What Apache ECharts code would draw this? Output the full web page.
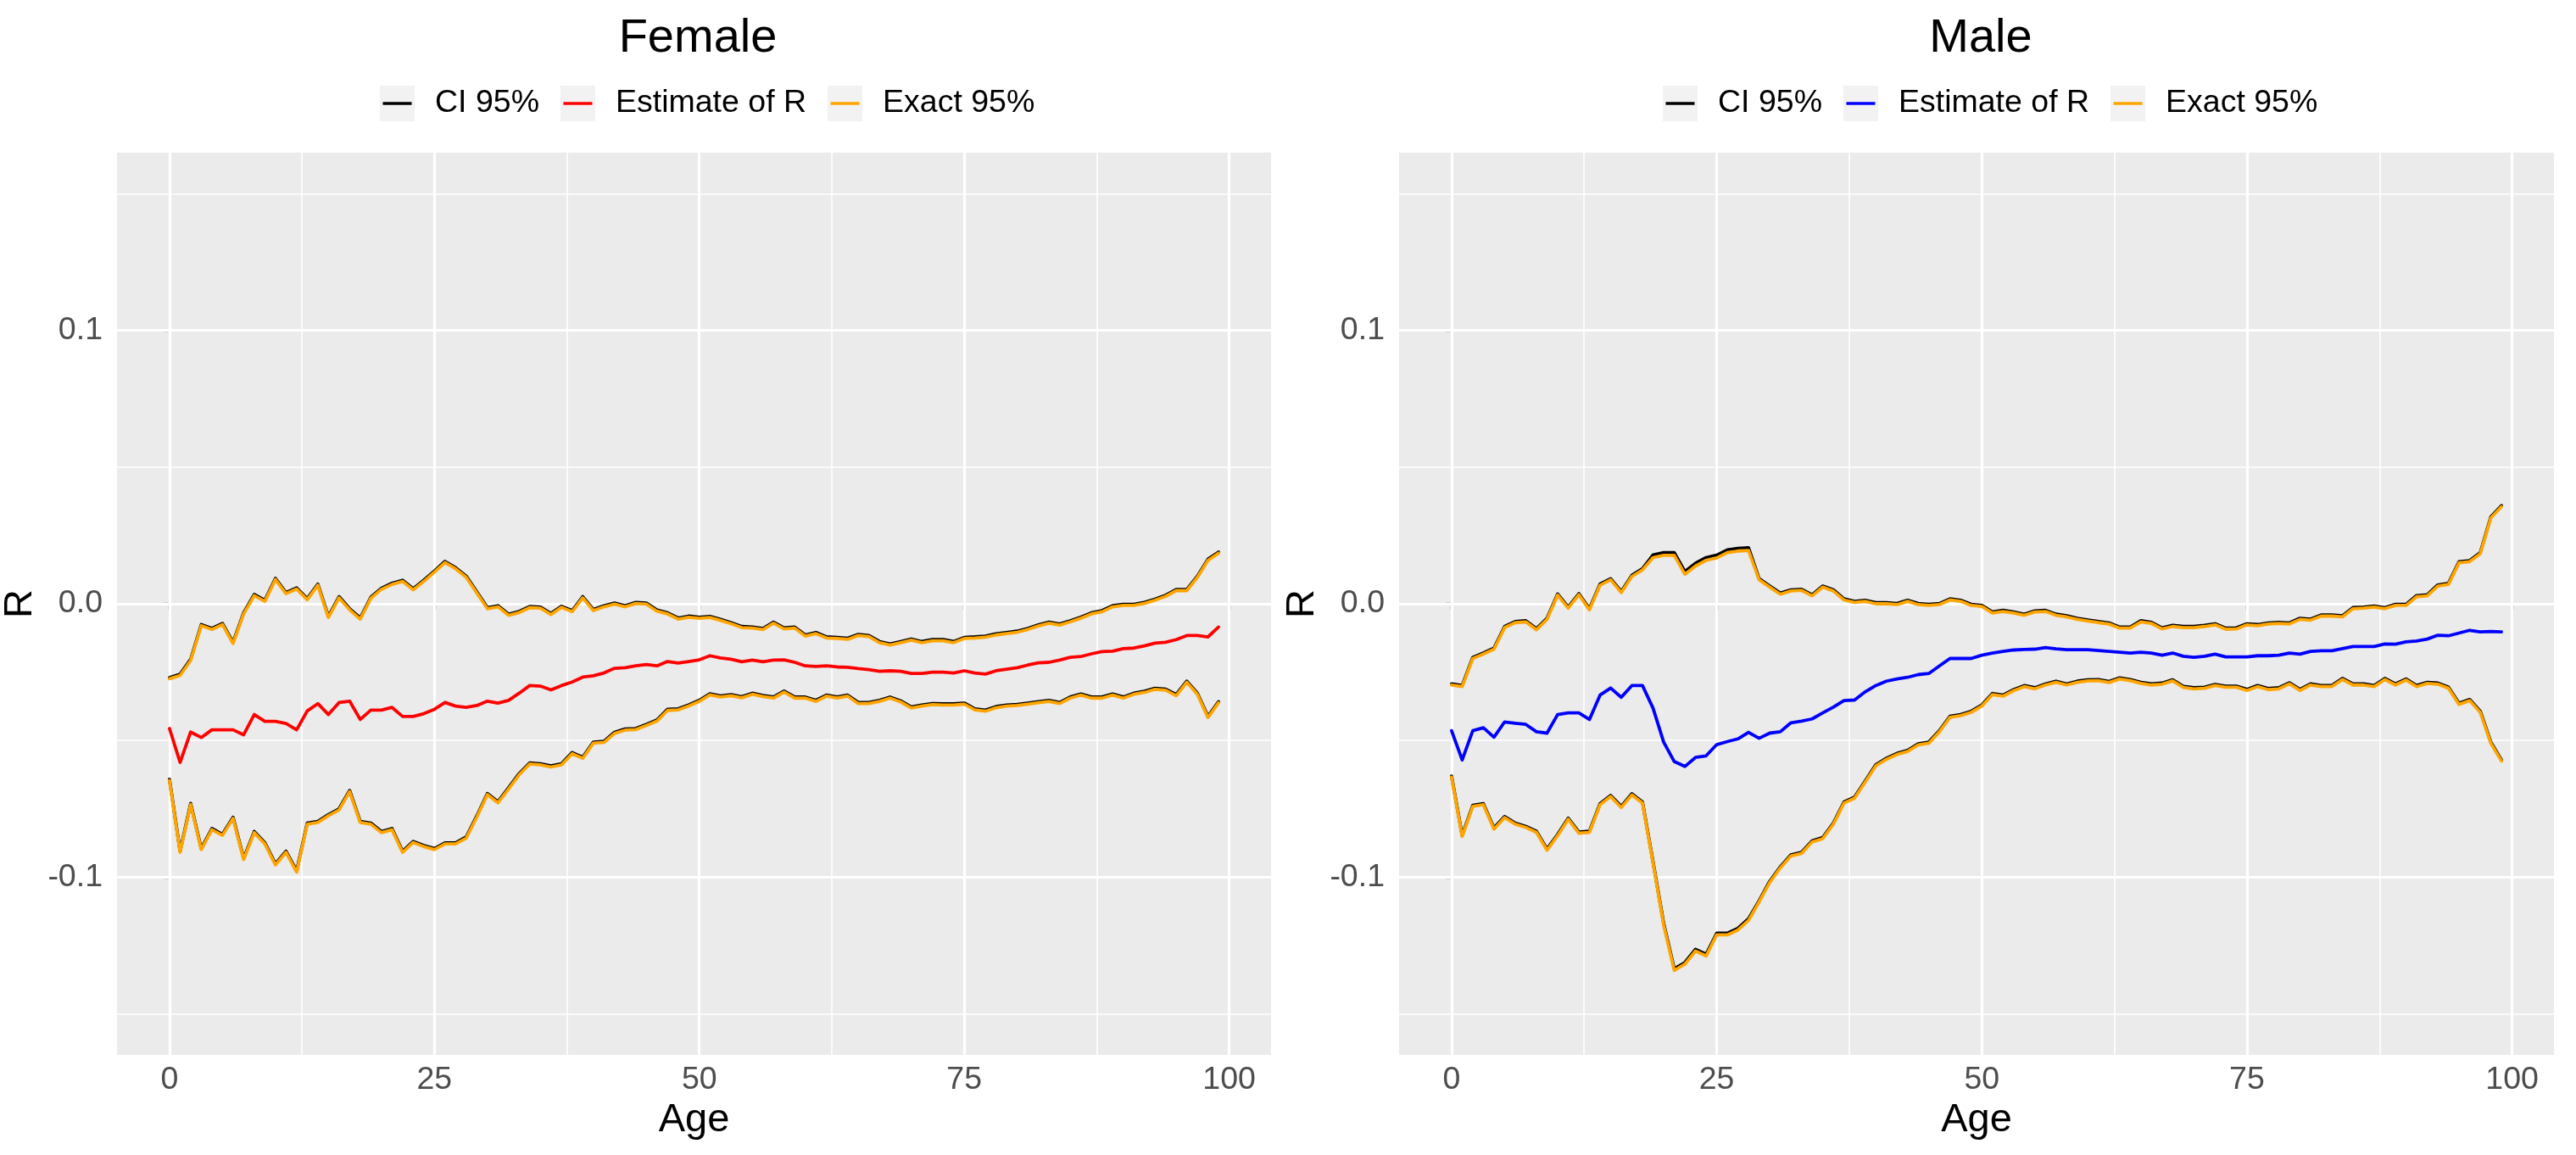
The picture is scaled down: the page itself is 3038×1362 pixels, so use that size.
<!DOCTYPE html>
<html>
<head>
<meta charset="utf-8">
<script src="https://cdn.jsdelivr.net/npm/echarts@6/dist/echarts.min.js"></script>
<style>
html,body{margin:0;padding:0;background:#fff;}
#chart{width:3038px;height:1362px;}
</style>
</head>
<body>
<div id="chart"></div>
<script>
// ---------- data ----------
const ages = Array.from({length: 100}, (_, i) => i);

const femaleCIUpper = [-0.0270,-0.0258,-0.0203,-0.0076,-0.0090,-0.0072,-0.0141,-0.0033,0.0034,0.0013,
0.0093,0.0041,0.0058,0.0019,0.0072,-0.0046,0.0026,-0.0018,-0.0052,0.0024,
0.0057,0.0075,0.0086,0.0055,0.0086,0.0120,0.0155,0.0132,0.0101,0.0044,
-0.0014,-0.0007,-0.0038,-0.0028,-0.0010,-0.0012,-0.0035,-0.0009,-0.0025,0.0026,
-0.0021,-0.0007,0.0003,-0.0007,0.0005,0.0003,-0.0023,-0.0033,-0.0052,-0.0045,
-0.0049,-0.0046,-0.0057,-0.0069,-0.0083,-0.0085,-0.0090,-0.0067,-0.0088,-0.0085,
-0.0114,-0.0105,-0.0121,-0.0123,-0.0126,-0.0112,-0.0116,-0.0138,-0.0147,-0.0138,
-0.0129,-0.0138,-0.0131,-0.0131,-0.0138,-0.0123,-0.0121,-0.0118,-0.0110,-0.0105,
-0.0100,-0.0090,-0.0077,-0.0067,-0.0074,-0.0062,-0.0049,-0.0033,-0.0025,-0.0007,
-0.0002,-0.0002,0.0005,0.0017,0.0031,0.0052,0.0052,0.0101,0.0163,0.0189];

const femaleExactUpper = [-0.0274,-0.0262,-0.0207,-0.0080,-0.0094,-0.0076,-0.0145,-0.0037,0.0030,0.0009,
0.0089,0.0037,0.0054,0.0015,0.0068,-0.0050,0.0022,-0.0022,-0.0056,0.0020,
0.0053,0.0071,0.0082,0.0051,0.0082,0.0116,0.0151,0.0128,0.0097,0.0040,
-0.0018,-0.0011,-0.0042,-0.0032,-0.0014,-0.0016,-0.0039,-0.0013,-0.0029,0.0022,
-0.0025,-0.0011,-0.0001,-0.0011,0.0001,-0.0001,-0.0027,-0.0037,-0.0056,-0.0049,
-0.0053,-0.0050,-0.0061,-0.0073,-0.0087,-0.0089,-0.0094,-0.0071,-0.0092,-0.0089,
-0.0118,-0.0109,-0.0125,-0.0127,-0.0130,-0.0116,-0.0120,-0.0142,-0.0151,-0.0142,
-0.0133,-0.0142,-0.0135,-0.0135,-0.0142,-0.0127,-0.0125,-0.0122,-0.0114,-0.0109,
-0.0104,-0.0094,-0.0081,-0.0071,-0.0078,-0.0066,-0.0053,-0.0037,-0.0029,-0.0011,
-0.0006,-0.0006,0.0001,0.0013,0.0027,0.0048,0.0048,0.0097,0.0159,0.0185];

const femaleEstimate = [-0.0456,-0.0580,-0.0469,-0.0489,-0.0461,-0.0461,-0.0461,-0.0479,-0.0405,-0.0430,
-0.0430,-0.0438,-0.0461,-0.0392,-0.0365,-0.0405,-0.0361,-0.0356,-0.0423,-0.0389,
-0.0389,-0.0379,-0.0412,-0.0412,-0.0402,-0.0386,-0.0361,-0.0374,-0.0379,-0.0372,
-0.0356,-0.0363,-0.0353,-0.0327,-0.0299,-0.0301,-0.0315,-0.0299,-0.0286,-0.0268,
-0.0263,-0.0253,-0.0236,-0.0234,-0.0227,-0.0222,-0.0227,-0.0211,-0.0217,-0.0211,
-0.0205,-0.0190,-0.0198,-0.0203,-0.0212,-0.0206,-0.0212,-0.0206,-0.0205,-0.0214,
-0.0227,-0.0229,-0.0227,-0.0231,-0.0232,-0.0237,-0.0241,-0.0247,-0.0245,-0.0247,
-0.0255,-0.0255,-0.0250,-0.0250,-0.0253,-0.0245,-0.0253,-0.0257,-0.0245,-0.0239,
-0.0234,-0.0224,-0.0216,-0.0214,-0.0206,-0.0196,-0.0193,-0.0183,-0.0175,-0.0173,
-0.0164,-0.0162,-0.0154,-0.0144,-0.0141,-0.0131,-0.0116,-0.0116,-0.0121,-0.0085];

const femaleCILower = [-0.0642,-0.0905,-0.0730,-0.0895,-0.0822,-0.0843,-0.0781,-0.0931,-0.0833,-0.0874,
-0.0951,-0.0905,-0.0977,-0.0802,-0.0796,-0.0771,-0.0750,-0.0683,-0.0796,-0.0802,
-0.0833,-0.0822,-0.0905,-0.0869,-0.0884,-0.0895,-0.0874,-0.0874,-0.0853,-0.0776,
-0.0694,-0.0724,-0.0673,-0.0621,-0.0582,-0.0585,-0.0593,-0.0585,-0.0544,-0.0561,
-0.0506,-0.0503,-0.0470,-0.0458,-0.0456,-0.0441,-0.0425,-0.0386,-0.0384,-0.0370,
-0.0353,-0.0329,-0.0337,-0.0332,-0.0340,-0.0327,-0.0335,-0.0341,-0.0319,-0.0341,
-0.0341,-0.0353,-0.0334,-0.0341,-0.0334,-0.0361,-0.0361,-0.0353,-0.0341,-0.0355,
-0.0377,-0.0370,-0.0365,-0.0366,-0.0366,-0.0363,-0.0384,-0.0389,-0.0376,-0.0370,
-0.0368,-0.0363,-0.0358,-0.0353,-0.0361,-0.0341,-0.0330,-0.0341,-0.0341,-0.0330,
-0.0341,-0.0327,-0.0320,-0.0309,-0.0312,-0.0332,-0.0283,-0.0327,-0.0412,-0.0358];

const femaleExactLower = [-0.0646,-0.0909,-0.0734,-0.0899,-0.0826,-0.0847,-0.0785,-0.0935,-0.0837,-0.0878,
-0.0955,-0.0909,-0.0981,-0.0806,-0.0800,-0.0775,-0.0754,-0.0687,-0.0800,-0.0806,
-0.0837,-0.0826,-0.0909,-0.0873,-0.0888,-0.0899,-0.0878,-0.0878,-0.0857,-0.0780,
-0.0698,-0.0728,-0.0677,-0.0625,-0.0586,-0.0589,-0.0597,-0.0589,-0.0548,-0.0565,
-0.0510,-0.0507,-0.0474,-0.0462,-0.0460,-0.0445,-0.0429,-0.0390,-0.0388,-0.0374,
-0.0357,-0.0333,-0.0341,-0.0336,-0.0344,-0.0331,-0.0339,-0.0345,-0.0323,-0.0345,
-0.0345,-0.0357,-0.0338,-0.0345,-0.0338,-0.0365,-0.0365,-0.0357,-0.0345,-0.0359,
-0.0381,-0.0374,-0.0369,-0.0370,-0.0370,-0.0367,-0.0388,-0.0393,-0.0380,-0.0374,
-0.0372,-0.0367,-0.0362,-0.0357,-0.0365,-0.0345,-0.0334,-0.0345,-0.0345,-0.0334,
-0.0345,-0.0331,-0.0324,-0.0313,-0.0316,-0.0336,-0.0287,-0.0331,-0.0416,-0.0362];

const maleCIUpper = [-0.0293,-0.0299,-0.0196,-0.0180,-0.0162,-0.0083,-0.0065,-0.0062,-0.0091,-0.0053,
0.0036,-0.0012,0.0037,-0.0018,0.0072,0.0092,0.0045,0.0104,0.0128,0.0179,
0.0187,0.0187,0.0118,0.0148,0.0169,0.0178,0.0197,0.0203,0.0205,0.0092,
0.0065,0.0039,0.0051,0.0053,0.0033,0.0065,0.0051,0.0018,0.0009,0.0013,
0.0004,0.0004,0.0001,0.0013,0.0001,-0.0002,0.0001,0.0018,0.0013,-0.0002,
-0.0006,-0.0030,-0.0024,-0.0030,-0.0038,-0.0026,-0.0024,-0.0038,-0.0044,-0.0053,
-0.0059,-0.0065,-0.0070,-0.0085,-0.0085,-0.0062,-0.0068,-0.0088,-0.0079,-0.0083,
-0.0083,-0.0079,-0.0073,-0.0089,-0.0088,-0.0073,-0.0076,-0.0070,-0.0068,-0.0070,
-0.0053,-0.0056,-0.0041,-0.0041,-0.0044,-0.0014,-0.0012,-0.0008,-0.0014,-0.0002,
-0.0002,0.0030,0.0033,0.0069,0.0075,0.0154,0.0158,0.0187,0.0318,0.0359];

const maleExactUpper = [-0.0297,-0.0303,-0.0200,-0.0184,-0.0166,-0.0087,-0.0069,-0.0066,-0.0095,-0.0057,
0.0032,-0.0016,0.0033,-0.0022,0.0068,0.0088,0.0041,0.0100,0.0124,0.0169,
0.0177,0.0177,0.0108,0.0138,0.0159,0.0168,0.0187,0.0193,0.0195,0.0088,
0.0061,0.0035,0.0047,0.0049,0.0029,0.0061,0.0047,0.0014,0.0005,0.0009,
0.0000,0.0000,-0.0003,0.0009,-0.0003,-0.0006,-0.0003,0.0014,0.0009,-0.0006,
-0.0010,-0.0034,-0.0028,-0.0034,-0.0042,-0.0030,-0.0028,-0.0042,-0.0048,-0.0057,
-0.0063,-0.0069,-0.0074,-0.0089,-0.0089,-0.0066,-0.0072,-0.0092,-0.0083,-0.0087,
-0.0087,-0.0083,-0.0077,-0.0093,-0.0092,-0.0077,-0.0080,-0.0074,-0.0072,-0.0074,
-0.0057,-0.0060,-0.0045,-0.0045,-0.0048,-0.0018,-0.0016,-0.0012,-0.0018,-0.0006,
-0.0006,0.0026,0.0029,0.0065,0.0071,0.0150,0.0154,0.0183,0.0314,0.0355];

const maleEstimate = [-0.0464,-0.0571,-0.0464,-0.0453,-0.0488,-0.0432,-0.0437,-0.0441,-0.0468,-0.0473,
-0.0405,-0.0399,-0.0399,-0.0423,-0.0334,-0.0308,-0.0342,-0.0299,-0.0299,-0.0382,
-0.0506,-0.0577,-0.0595,-0.0562,-0.0556,-0.0515,-0.0504,-0.0494,-0.0470,-0.0492,
-0.0473,-0.0468,-0.0435,-0.0429,-0.0421,-0.0399,-0.0378,-0.0354,-0.0352,-0.0322,
-0.0299,-0.0283,-0.0275,-0.0269,-0.0259,-0.0255,-0.0227,-0.0200,-0.0200,-0.0200,
-0.0188,-0.0180,-0.0174,-0.0169,-0.0167,-0.0166,-0.0160,-0.0165,-0.0168,-0.0168,
-0.0168,-0.0171,-0.0174,-0.0177,-0.0180,-0.0177,-0.0180,-0.0188,-0.0180,-0.0192,
-0.0196,-0.0192,-0.0184,-0.0194,-0.0194,-0.0194,-0.0190,-0.0190,-0.0188,-0.0180,
-0.0184,-0.0174,-0.0172,-0.0172,-0.0164,-0.0156,-0.0156,-0.0156,-0.0147,-0.0148,
-0.0139,-0.0136,-0.0129,-0.0115,-0.0117,-0.0107,-0.0097,-0.0103,-0.0101,-0.0103];

const maleCILower = [-0.0630,-0.0847,-0.0737,-0.0731,-0.0820,-0.0778,-0.0802,-0.0814,-0.0832,-0.0897,
-0.0844,-0.0784,-0.0835,-0.0832,-0.0731,-0.0701,-0.0741,-0.0695,-0.0725,-0.0944,
-0.1169,-0.1335,-0.1312,-0.1264,-0.1282,-0.1205,-0.1205,-0.1187,-0.1152,-0.1086,
-0.1015,-0.0962,-0.0918,-0.0909,-0.0867,-0.0855,-0.0802,-0.0725,-0.0707,-0.0648,
-0.0589,-0.0565,-0.0547,-0.0536,-0.0512,-0.0506,-0.0464,-0.0411,-0.0405,-0.0393,
-0.0370,-0.0328,-0.0334,-0.0314,-0.0299,-0.0307,-0.0293,-0.0283,-0.0293,-0.0283,
-0.0278,-0.0277,-0.0284,-0.0271,-0.0277,-0.0287,-0.0293,-0.0290,-0.0278,-0.0302,
-0.0307,-0.0305,-0.0295,-0.0301,-0.0301,-0.0313,-0.0299,-0.0310,-0.0307,-0.0289,
-0.0313,-0.0293,-0.0299,-0.0299,-0.0273,-0.0293,-0.0293,-0.0299,-0.0273,-0.0293,
-0.0275,-0.0299,-0.0287,-0.0290,-0.0305,-0.0364,-0.0350,-0.0393,-0.0506,-0.0571];

const maleExactLower = [-0.0634,-0.0851,-0.0741,-0.0735,-0.0824,-0.0782,-0.0806,-0.0818,-0.0836,-0.0901,
-0.0848,-0.0788,-0.0839,-0.0836,-0.0735,-0.0705,-0.0745,-0.0699,-0.0729,-0.0948,
-0.1175,-0.1341,-0.1318,-0.1270,-0.1288,-0.1211,-0.1211,-0.1193,-0.1158,-0.1090,
-0.1019,-0.0966,-0.0922,-0.0913,-0.0871,-0.0859,-0.0806,-0.0729,-0.0711,-0.0652,
-0.0593,-0.0569,-0.0551,-0.0540,-0.0516,-0.0510,-0.0468,-0.0415,-0.0409,-0.0397,
-0.0374,-0.0332,-0.0338,-0.0318,-0.0303,-0.0311,-0.0297,-0.0287,-0.0297,-0.0287,
-0.0282,-0.0281,-0.0288,-0.0275,-0.0281,-0.0291,-0.0297,-0.0294,-0.0282,-0.0306,
-0.0311,-0.0309,-0.0299,-0.0305,-0.0305,-0.0317,-0.0303,-0.0314,-0.0311,-0.0293,
-0.0317,-0.0297,-0.0303,-0.0303,-0.0277,-0.0297,-0.0297,-0.0303,-0.0277,-0.0297,
-0.0279,-0.0303,-0.0291,-0.0294,-0.0309,-0.0368,-0.0354,-0.0397,-0.0510,-0.0575];

// ---------- ticks ----------
const xMajorTicks = [0, 25, 50, 75, 100];
const xMinorTicks = [12.5, 37.5, 62.5, 87.5];
const yMajorTicks = [-0.1, 0, 0.1];
const yMinorTicks = [-0.15, -0.05, 0.05, 0.15];

const panelTitles = ['Female', 'Male'];
const legendNames = ['CI 95%', 'Estimate of R', 'Exact 95%'];

// ---------- styling ----------
const FONT = 'Liberation Sans, Arial, sans-serif';
const panels = [
  {left: 137, estColor: '#FF0000', ciU: femaleCIUpper, ciL: femaleCILower, exU: femaleExactUpper, exL: femaleExactLower, est: femaleEstimate},
  {left: 1650, estColor: '#0000FF', ciU: maleCIUpper, ciL: maleCILower, exU: maleExactUpper, exL: maleExactLower, est: maleEstimate}
];
const GRID_W = 1362, GRID_TOP = 180, GRID_H = 1064;
const LINE_W = 3.8;

function pairs(vals) { return vals.map((v, i) => [ages[i], v]); }

const option = {
  animation: false,
  backgroundColor: '#ffffff',
  title: [], legend: [], grid: [], xAxis: [], yAxis: [], series: []
};

panels.forEach((p, k) => {
  const center = p.left + GRID_W / 2;
  option.title.push({
    text: panelTitles[k], left: center, textAlign: 'center', top: 13,
    textStyle: {fontSize: 56, fontWeight: 'normal', color: '#000000', fontFamily: FONT}
  });
  const legLeft = center - 370;
  option.legend.push({
    left: legLeft, top: 101, padding: 0, orient: 'horizontal',
    itemWidth: 41, itemHeight: 42, itemGap: 25, icon: 'rect', selectedMode: false,
    itemStyle: {color: '#F2F2F2', borderWidth: 0},
    textStyle: {fontSize: 37.5, color: '#000000', fontFamily: FONT, lineHeight: 42, padding: [0, 0, 0, 19]},
    data: legendNames.slice()
  });
  option.legend.push({
    left: legLeft + 3.5, top: 101, padding: 0, orient: 'horizontal', z: 10,
    itemWidth: 34, itemHeight: 3.6, itemGap: 28.5, icon: 'rect', selectedMode: false,
    itemStyle: {borderWidth: 0},
    textStyle: {fontSize: 37.5, color: 'rgba(0,0,0,0)', fontFamily: FONT, lineHeight: 42, padding: [0, 0, 0, 22.5]},
    data: [
      {name: legendNames[0], itemStyle: {color: '#000000', borderWidth: 0}},
      {name: legendNames[1], itemStyle: {color: p.estColor, borderWidth: 0}},
      {name: legendNames[2], itemStyle: {color: '#FFA500', borderWidth: 0}}
    ]
  });
  option.grid.push({
    left: p.left, top: GRID_TOP, width: GRID_W, height: GRID_H,
    show: true, backgroundColor: '#EBEBEB', borderWidth: 0, containLabel: false
  });
  option.xAxis.push({
    type: 'value', gridIndex: k, min: -4.95, max: 103.95,
    axisLine: {show: false}, splitLine: {show: false},
    axisTick: {show: true, customValues: xMajorTicks, length: 7, lineStyle: {color: '#333333', width: 2.3}},
    axisLabel: {customValues: xMajorTicks, color: '#4D4D4D', fontSize: 37.5, fontFamily: FONT, margin: 11,
      formatter: v => String(v)},
    name: 'Age', nameLocation: 'middle', nameGap: 50,
    nameTextStyle: {fontSize: 47, color: '#000000', fontFamily: FONT}
  });
  option.yAxis.push({
    type: 'value', gridIndex: k, min: -0.165, max: 0.165,
    axisLine: {show: false}, splitLine: {show: false},
    axisTick: {show: true, customValues: yMajorTicks, length: 7, lineStyle: {color: '#333333', width: 2.3}},
    axisLabel: {customValues: yMajorTicks, color: '#4D4D4D', fontSize: 37.5, fontFamily: FONT, margin: 17,
      formatter: v => Number(v).toFixed(1)},
    name: 'R', nameLocation: 'middle', nameGap: 90, nameRotate: 90,
    nameTextStyle: {fontSize: 47, color: '#000000', fontFamily: FONT}
  });

  const gridLines = [];
  xMinorTicks.forEach(v => gridLines.push({xAxis: v, lineStyle: {width: 1.6}}));
  yMinorTicks.forEach(v => gridLines.push({yAxis: v, lineStyle: {width: 1.6}}));
  xMajorTicks.forEach(v => gridLines.push({xAxis: v, lineStyle: {width: 3.2}}));
  yMajorTicks.forEach(v => gridLines.push({yAxis: v, lineStyle: {width: 3.2}}));
  option.series.push({
    type: 'line', name: '_grid' + k, xAxisIndex: k, yAxisIndex: k, data: [], z: 1, silent: true,
    markLine: {
      silent: true, z: 1, symbol: ['none', 'none'], animation: false,
      label: {show: false}, emphasis: {disabled: true},
      lineStyle: {color: '#FFFFFF', type: 'solid', width: 3.2},
      data: gridLines
    }
  });

  const lineBase = (name, data, color, z) => ({
    type: 'line', name, data: pairs(data), xAxisIndex: k, yAxisIndex: k,
    showSymbol: false, symbol: 'none', z, silent: true,
    lineStyle: {color, width: LINE_W, join: 'round', cap: 'round'},
    itemStyle: {color}, emphasis: {disabled: true}
  });
  option.series.push(lineBase(legendNames[0], p.ciU, '#000000', 3));
  option.series.push(lineBase(legendNames[0], p.ciL, '#000000', 3));
  option.series.push(lineBase(legendNames[1], p.est, p.estColor, 3));
  option.series.push(lineBase(legendNames[2], p.exU, '#FFA500', 4));
  option.series.push(lineBase(legendNames[2], p.exL, '#FFA500', 4));
});

const chart = echarts.init(document.getElementById('chart'), null, {renderer: 'canvas', width: 3038, height: 1362, devicePixelRatio: 1});
chart.setOption(option);
</script>
</body>
</html>
